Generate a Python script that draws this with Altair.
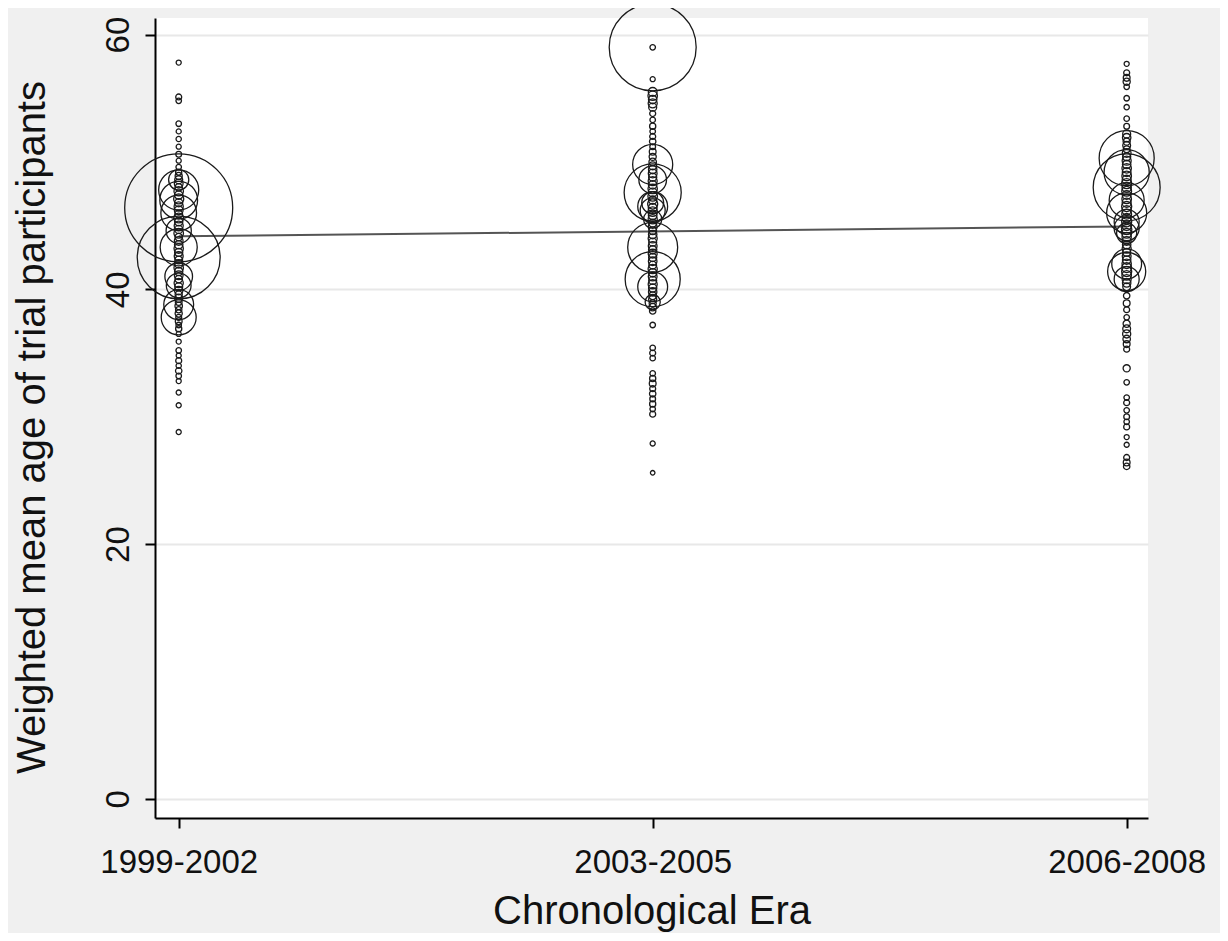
import altair as alt
import pandas as pd

era_labels = ["1999-2002", "2003-2005", "2006-2008"]

# Era 1 (1999-2002): weighted mean age per trial and trial size
era1_age = [57.8, 55.1, 54.8, 53.0, 52.4, 51.8, 51.2, 50.6, 50.1, 49.6,
            49.2, 48.9, 48.6, 48.3, 48.0, 47.7, 47.4, 47.1, 46.8, 46.5,
            46.2, 45.9, 45.6, 45.3, 45.0, 44.7, 44.4, 44.1, 43.8, 43.5,
            43.2, 42.9, 42.6, 42.3, 42.0, 41.7, 41.4, 41.1, 40.8, 40.5,
            40.2, 39.9, 39.6, 39.3, 39.0, 38.7, 38.4, 38.1, 37.8, 37.5,
            37.2, 36.9, 36.5, 35.9, 35.2, 34.8, 34.4, 34.0, 33.6, 33.2,
            32.8, 31.9, 30.9, 28.8,
            46.4, 42.5, 47.8, 47.0, 46.0, 43.3, 44.6, 41.0, 40.3, 37.8, 38.8, 48.6]
era1_n = [10, 14, 12, 12, 10, 11, 10, 13, 10, 12,
          15, 20, 25, 30, 22, 35, 28, 40, 26, 33,
          30, 24, 38, 27, 32, 25, 36, 22, 30, 28,
          34, 26, 31, 24, 29, 35, 27, 30, 22, 33,
          25, 28, 20, 26, 18, 22, 16, 20, 14, 18,
          12, 15, 10, 10, 12, 10, 14, 11, 16, 12,
          10, 10, 10, 10,
          4580, 2700, 630, 560, 500, 540, 250, 300, 240, 480, 350, 160]

# Era 2 (2003-2005)
era2_age = [59.0, 56.5, 55.5, 55.2, 54.9, 54.6, 54.3, 53.8, 53.3, 52.8,
            52.4, 52.0, 51.6, 51.2, 50.8, 50.4, 50.0, 49.7, 49.4, 49.1,
            48.8, 48.5, 48.2, 47.9, 47.6, 47.3, 47.0, 46.7, 46.4, 46.1,
            45.8, 45.5, 45.2, 44.9, 44.6, 44.3, 44.0, 43.7, 43.4, 43.1,
            42.8, 42.5, 42.2, 41.9, 41.6, 41.3, 41.0, 40.7, 40.4, 40.1,
            39.8, 39.5, 39.2, 38.9, 38.6, 38.3, 37.2, 35.4, 35.0, 34.6,
            33.4, 33.0, 32.6, 32.2, 31.8, 31.4, 31.0, 30.6, 30.2, 27.9,
            25.6,
            59.0, 49.8, 48.6, 47.6, 46.8, 46.5, 46.2, 45.5, 43.3, 40.8, 40.2, 39.0]
era2_n = [12, 10, 30, 35, 28, 32, 25, 14, 12, 15,
          12, 14, 16, 13, 18, 20, 22, 25, 28, 30,
          26, 32, 28, 34, 30, 36, 27, 40, 31, 35,
          29, 33, 26, 30, 24, 28, 32, 25, 30, 27,
          31, 26, 29, 24, 33, 28, 30, 25, 32, 27,
          28, 24, 26, 20, 22, 16, 12, 12, 14, 12,
          12, 15, 18, 14, 16, 13, 15, 12, 14, 10,
          8,
          2970, 630, 300, 1280, 190, 350, 245, 130, 980, 1190, 350, 90]

# Era 3 (2006-2008)
era3_age = [57.7, 57.0, 56.6, 56.3, 55.9, 55.0, 54.3, 53.4, 52.8, 52.2,
            51.9, 51.6, 51.3, 51.0, 50.7, 50.4, 50.1, 49.8, 49.5, 49.2,
            48.9, 48.6, 48.3, 48.0, 47.7, 47.4, 47.1, 46.8, 46.5, 46.2,
            45.9, 45.6, 45.3, 45.0, 44.7, 44.4, 44.1, 43.8, 43.5, 43.2,
            42.9, 42.6, 42.3, 42.0, 41.7, 41.4, 41.1, 40.8, 40.5, 40.2,
            39.5, 38.9, 38.4, 37.8, 37.3, 36.9, 36.5, 36.1, 35.7, 35.3,
            33.8, 32.7, 31.5, 31.1, 30.5, 30.0, 29.6, 29.2, 28.4, 27.8,
            26.8, 26.4, 26.1,
            50.3, 49.2, 48.0, 47.0, 46.0, 45.3, 44.8, 44.4, 42.0, 41.4, 40.8]
era3_n = [10, 14, 18, 20, 12, 12, 11, 12, 13, 25,
          28, 20, 24, 18, 30, 26, 32, 28, 35, 30,
          36, 32, 40, 34, 38, 30, 36, 32, 40, 34,
          38, 32, 40, 36, 42, 38, 34, 30, 28, 32,
          26, 30, 28, 34, 38, 40, 36, 32, 28, 24,
          16, 18, 14, 12, 20, 24, 26, 22, 18, 14,
          20, 12, 12, 14, 12, 13, 12, 14, 10, 10,
          14, 18, 16,
          1190, 800, 1760, 480, 630, 245, 245, 160, 350, 570, 245]

# Fitted (weighted) regression line
fit_era = [1, 3]
fit_age = [44.16, 44.94]

rows = []
for era, ages, ns in [(1, era1_age, era1_n), (2, era2_age, era2_n), (3, era3_age, era3_n)]:
    for a, n in zip(ages, ns):
        rows.append({"era": era, "age": a, "n": n})
df = pd.DataFrame(rows)
fit_df = pd.DataFrame({"era": fit_era, "fit": fit_age})

label_expr = "[" + ",".join("'" + s + "'" for s in era_labels) + "][datum.value - 1]"

x_scale = alt.Scale(domain=[0.95, 3.045], nice=False, zero=False)
y_scale = alt.Scale(domain=[-1.5, 61.3], nice=False, zero=False)

FONT = "Liberation Sans"

points = alt.Chart(df).mark_point(
    shape="circle", filled=False, color="#1a1a1a", strokeWidth=1.3, opacity=1
).encode(
    x=alt.X("era:Q", scale=x_scale,
            axis=alt.Axis(values=[1, 2, 3], labelExpr=label_expr, grid=False,
                          title="Chronological Era", labelFlush=False,
                          labelOverlap=False, labelPadding=18,
                          titleBaseline="alphabetic", titleY=105, titleX=496.5)),
    y=alt.Y("age:Q", scale=y_scale,
            axis=alt.Axis(values=[0, 20, 40, 60], format="d", grid=True,
                          title="Weighted mean age of trial participants",
                          labelAngle=270, labelAlign="center", labelBaseline="bottom",
                          labelPadding=10, titleAngle=270, titleAlign="center",
                          titleBaseline="alphabetic", titleX=-111, titleY=409)),
    size=alt.Size("n:Q", scale=alt.Scale(type="linear", domain=[0, 4600], range=[0, 11716]),
                  legend=None),
)

line = alt.Chart(fit_df).mark_line(color="#555555", strokeWidth=2).encode(
    x=alt.X("era:Q", scale=x_scale),
    y=alt.Y("fit:Q", scale=y_scale),
)

chart = alt.layer(line, points).properties(
    width=993, height=800,
    padding={"left": 147, "top": 10, "right": 72, "bottom": 115},
    autosize=alt.AutoSizeParams(type="none"),
    background="#f0f0f0",
).configure_view(
    fill="white", strokeWidth=0
).configure_axis(
    domainColor="#000000", domainWidth=2,
    tickColor="#000000", tickWidth=2, tickSize=10,
    gridColor="#e8e8e8", gridWidth=2,
    labelFont=FONT, labelFontSize=33, labelColor="#111111",
    titleFont=FONT, titleFontSize=40, titleFontWeight="normal", titleColor="#111111",
)

chart.save("out.html", embed_options={"renderer": "svg", "actions": False})
